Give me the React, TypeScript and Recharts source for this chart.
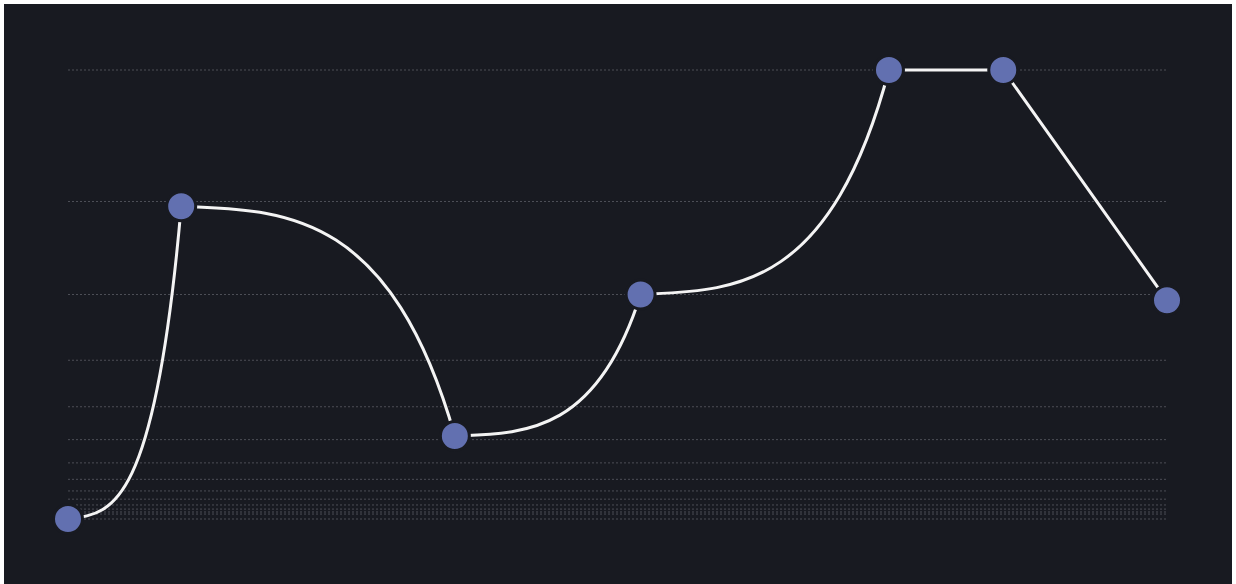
import { CartesianGrid, Line, LineChart, XAxis, YAxis } from "recharts";

const positions = [0, 10.3, 35.2, 52.1, 74.7, 85.1, 100];
const values = [0, 497, 35, 256, 1024, 1024, 243];
const gridTicks = [1024, 512, 256, 128, 64, 32, 16, 8, 4, 2, 1, 0.5, 0.25, 0.125, 0];

const data = positions.map((x, i) => ({ x, value: values[i] }));

const BG = "#181a21";

// every segment leaves flat and bends late; the last one is drawn straight
function lateCurve(context: any) {
  let pts: number[][] = [];
  return {
    areaStart() {},
    areaEnd() {},
    lineStart() {
      pts = [];
    },
    point(x: number, y: number) {
      pts.push([+x, +y]);
    },
    lineEnd() {
      if (!pts.length) return;
      context.moveTo(pts[0][0], pts[0][1]);
      for (let i = 1; i < pts.length; i++) {
        const [x0, y0] = pts[i - 1];
        const [x1, y1] = pts[i];
        if (i === pts.length - 1) {
          context.lineTo(x1, y1);
          continue;
        }
        const dx = x1 - x0;
        const dy = y1 - y0;
        context.bezierCurveTo(x0 + dx * 0.36, y0 + dy * 0.02, x0 + dx * 0.76, y0, x1, y1);
      }
    },
  };
}

export default function App() {
  return (
    <div
      style={{
        position: "absolute",
        left: 4,
        top: 4,
        width: 1228,
        height: 590,
        background: BG,
      }}
    >
      <LineChart width={1228} height={580} data={data} margin={{ top: 66, right: 65, bottom: 65, left: 64 }}>
        <CartesianGrid vertical={false} stroke="#4c4e56" strokeDasharray="2 2" />
        <XAxis dataKey="x" type="number" domain={[0, 100]} hide />
        <YAxis scale="sqrt" domain={[0, 1024]} ticks={gridTicks} interval={0} hide />
        <Line
          dataKey="value"
          type={lateCurve as any}
          stroke="#f4f4f4"
          strokeWidth={3}
          dot={{ r: 14.5, fill: "#6270b0", stroke: BG, strokeWidth: 3 }}
          activeDot={false}
          isAnimationActive={false}
        />
      </LineChart>
    </div>
  );
}
